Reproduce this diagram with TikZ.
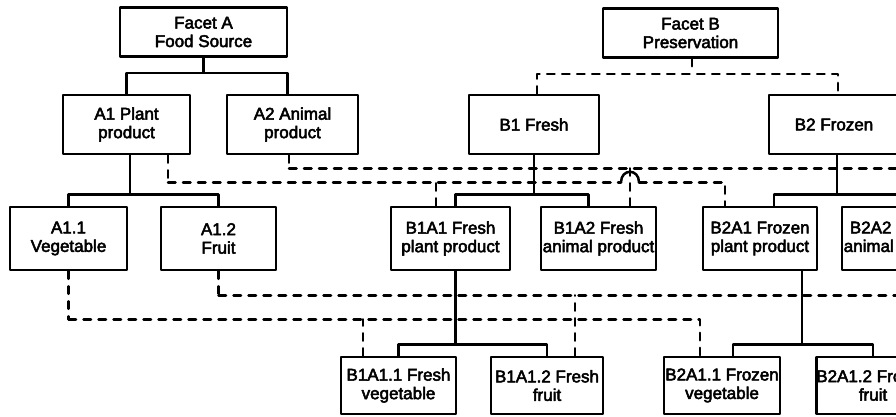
\documentclass[tikz,border=0pt]{standalone}
\usepackage{fontspec}
\newfontfamily\boxfont{Liberation Sans}[BoldFont={Liberation Sans}, BoldFeatures={FakeBold=3}]
\usepackage{tikz}

\begin{document}
\begin{tikzpicture}[line join=round, line cap=round, x=1pt, y=-1pt,
	font=\boxfont\bfseries\fontsize{17pt}{18.5pt}\selectfont,
	box/.style={draw, line width=2.6pt, align=center, inner sep=0pt},
	rowfacet/.style={box, minimum height=49pt},
	rowone/.style={box, minimum height=59pt},
	rowtwo/.style={box, minimum height=63pt},
	rowthree/.style={box, minimum height=57pt},
	tie/.style={line width=2.5pt},
	link/.style={line width=2.5pt, dash pattern=on 7.5pt off 7.5pt}]
	\useasboundingbox (0,0) rectangle (896,416);
	\clip (0,0) rectangle (896,416);
	% Facetten
	\node[rowfacet, minimum width=167pt] (fa) at (203.5,32) {Facet A\\Food Source};
	\node[rowfacet, minimum width=175pt] (fb) at (690.5,33) {Facet B\\Preservation};
	% Erste Ebene
	\node[rowone, minimum width=127pt] (a1) at (126.5,124.5) {A1 Plant\\product};
	\node[rowone, minimum width=131pt] (a2) at (292.5,124.5) {A2 Animal\\product};
	\node[rowone, minimum width=130pt] (b1) at (534,124.5) {B1 Fresh};
	\node[rowone, minimum width=130pt] (b2) at (834,124.5) {B2 Frozen};
	% Zweite Ebene
	\node[rowtwo, minimum width=117pt] (a11) at (68.5,238.5) {A1.1\\Vegetable};
	\node[rowtwo, minimum width=115pt] (a12) at (218.5,238.5) {A1.2\\Fruit};
	\node[rowtwo, minimum width=119pt] (b1a1) at (450.5,238.5) {B1A1 Fresh\\plant product};
	\node[rowtwo, minimum width=115pt] (b1a2) at (598.5,238.5) {B1A2 Fresh\\animal product};
	\node[rowtwo, minimum width=114pt] (b2a1) at (760,238.5) {B2A1 Frozen\\plant product};
	\node[rowtwo, minimum width=115pt] (b2a2) at (899.5,238.5) {B2A2 Frozen\\animal product};
	% Dritte Ebene
	\node[rowthree, minimum width=115pt] (b1a11) at (398.5,385.5) {B1A1.1 Fresh\\vegetable};
	\node[rowthree, minimum width=112pt] (b1a12) at (547,385.5) {B1A1.2 Fresh\\fruit};
	\node[rowthree, minimum width=116pt] (b2a11) at (722,385.5) {B2A1.1 Frozen\\vegetable};
	\node[rowthree, minimum width=112pt] (b2a12) at (873,385.5) {B2A1.2 Frozen\\fruit};
	% Baumlinien (durchgezogen)
	\draw[tie] (fa.south) -- ++(0,15) coordinate (fa-j);
	\draw[tie] (a1.north) |- (fa-j) -| ([xshift=-5]a2.north);
	\draw[tie] ([xshift=3.5]a1.south) -- ++(0,39) coordinate (a1-j);
	\draw[tie] (a11.north) |- (a1-j) -| (a12.north);
	\draw[tie] (b1.south) -- ++(0,39) coordinate (b1-j);
	\draw[tie] ([xshift=5]b1a1.north) |- (b1-j) -| ([xshift=-10]b1a2.north);
	\draw[tie] ([xshift=3]b2.south) -- ++(0,39) coordinate (b2-j);
	\draw[tie] ([xshift=14]b2a1.north) |- (b2-j) -| (b2a2.north);
	\draw[tie] ([xshift=5]b1a1.south) -- ++(0,73) coordinate (b1a1-j);
	\draw[tie] (b1a11.north) |- (b1a1-j) -| (b1a12.north);
	\draw[tie] ([xshift=42]b2a1.south) -- ++(0,73) coordinate (b2a1-j);
	\draw[tie] ([xshift=11]b2a11.north) |- (b2a1-j) -| (b2a12.north);
	% Facette B (gestrichelt)
	\draw[link] ([xshift=1.5]fb.south) -- ++(0,15) coordinate (fb-j);
	\draw[link] ([xshift=3]b1.north) |- (fb-j) -| ([xshift=4]b2.north);
	% Verknuepfungen A2
	\draw[link] ([xshift=-3.5]a2.south) -- ++(0,13) coordinate (a2-j);
	\draw[link] (a2-j) -| ([xshift=10]b2a2.north);
	\coordinate (d1) at ([xshift=31.5]b1a2.north);
	\draw[link] (d1) -- (d1 |- a2-j);
	% Verknuepfungen A1 mit Bruecke
	\draw[link] ([xshift=41.5]a1.south) -- ++(0,27) coordinate (a1-k);
	\path (d1 |- a1-k) coordinate (hop);
	\draw[link] (a1-k) -- ([xshift=-9]hop);
	\draw[tie] ([xshift=-9]hop) .. controls ([xshift=-9,yshift=14]hop) and ([xshift=9,yshift=14]hop) .. ([xshift=9]hop);
	\draw[link] ([xshift=9]hop) -| ([xshift=-35]b2a1.north);
	\coordinate (d2) at ([xshift=-14.5]b1a1.north);
	\draw[link] (d2) -- (d2 |- a1-k);
	% Verknuepfungen A1.1 und A1.2
	\draw[link] (a11.south) -- ++(0,48) coordinate (a11-j);
	\draw[link] (a11-j) -| ([xshift=-22]b2a11.north);
	\coordinate (d3) at ([xshift=-35.5]b1a11.north);
	\draw[link] (d3) -- (d3 |- a11-j);
	\draw[link] (a12.south) -- ++(0,24) coordinate (a12-j);
	\draw[link] (a12-j) -| ([xshift=30]b2a12.north);
	\coordinate (d4) at ([xshift=28]b1a12.north);
	\draw[link] (d4) -- (d4 |- a12-j);
\end{tikzpicture}
\end{document}
